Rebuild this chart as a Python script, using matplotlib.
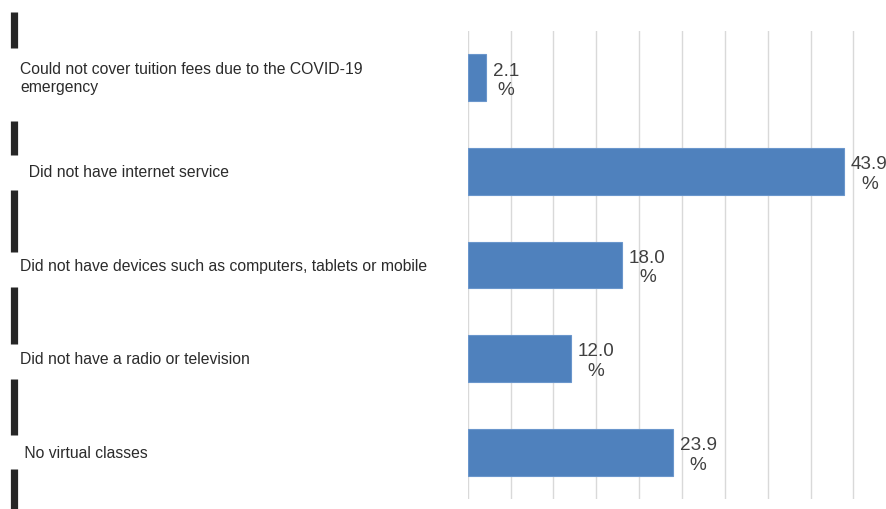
import matplotlib
matplotlib.use("Agg")
from matplotlib import pyplot as plt
from matplotlib import transforms
from matplotlib.lines import Line2D
import numpy as np

plt.rcParams["font.family"] = ["Liberation Sans", "DejaVu Sans"]

categories = [
    "Could not cover tuition fees due to the COVID-19\nemergency",
    "  Did not have internet service",
    "Did not have devices such as computers, tablets or mobile",
    "Did not have a radio or television",
    " No virtual classes",
]
values = [2.1, 43.9, 18.0, 12.0, 23.9]

W, H = 886, 510
fig = plt.figure(figsize=(W / 100, H / 100), dpi=100)
ax = fig.add_axes([467.7 / W, 1 - 500 / H, (W - 467.7) / W, 468 / H])

y = np.arange(len(values))
ax.barh(y, values, height=0.5, color="#4F81BD", edgecolor="#6A96CC",
        linewidth=0.8, zorder=2)
ax.set_ylim(len(values) - 0.5, -0.5)
ax.set_xlim(0, 48.8)

ax.set_xticks(np.arange(0, 50, 5))
ax.set_yticks([])
ax.tick_params(axis="x", length=0, labelbottom=False)
ax.grid(axis="x", color="#D9D9D9", linewidth=1.0, zorder=0)
for s in ax.spines.values():
    s.set_visible(False)

# value labels, number over percent sign
for yi, v in zip(y, values):
    ax.annotate(f"{v:.1f}\n%", xy=(v, yi), xytext=(7, -2),
                textcoords="offset pixels", ha="left", va="center",
                multialignment="center", fontsize=13.6, color="#404040",
                annotation_clip=False)

# category labels on the far left
trans = transforms.blended_transform_factory(fig.transFigure, ax.transData)
for yi, lab in zip(y, categories):
    ax.text(20 / W, yi, lab, transform=trans, ha="left", va="center",
            fontsize=11.3, color="#2B2B2B", linespacing=1.28)

# dark separator marks in the left margin (pixel spans)
marks = [(12.7, 49.3), (121.7, 156), (191, 252.7), (287.7, 345),
         (380, 436), (470, 512)]
for top, bot in marks:
    fig.add_artist(Line2D([13.7 / W, 13.7 / W], [1 - top / H, 1 - bot / H],
                          transform=fig.transFigure, color="#262626",
                          linewidth=5.2, solid_capstyle="butt"))

fig.savefig("out.png", dpi=100)
